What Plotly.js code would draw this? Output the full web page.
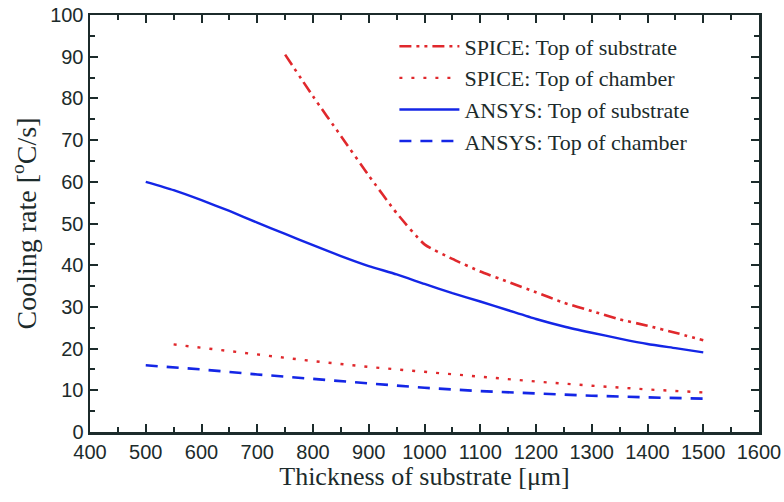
<!DOCTYPE html>
<html>
<head>
<meta charset="utf-8">
<script src="https://cdn.plot.ly/plotly-3.0.1.min.js"></script>
<style>html,body{margin:0;padding:0;background:#fff;}#chart{width:784px;height:502px;}</style>
</head>
<body>
<div id="chart"></div>
<script>
// Data
const spiceSubX = [750, 800, 850, 900, 950, 1000, 1050, 1100, 1150, 1200, 1250, 1300, 1350, 1400, 1450, 1500];
const spiceSubY = [90.5, 80.5, 71, 61.5, 52.5, 45, 41.5, 38.5, 36, 33.5, 31, 29, 27, 25.5, 23.8, 22];

const spiceChX = [550, 600, 700, 800, 900, 1000, 1100, 1200, 1300, 1400, 1500];
const spiceChY = [21, 20.2, 18.5, 17, 15.6, 14.4, 13.2, 12.1, 11.1, 10.2, 9.5];

const ansysSubX = [500, 550, 600, 650, 700, 750, 800, 850, 900, 950, 1000, 1050, 1100, 1150, 1200, 1250, 1300, 1350, 1400, 1450, 1500];
const ansysSubY = [60, 58, 55.6, 53, 50.2, 47.5, 44.8, 42.2, 39.8, 37.8, 35.5, 33.3, 31.3, 29.2, 27.1, 25.3, 23.8, 22.4, 21.1, 20.1, 19.1];

const ansysChX = [500, 600, 700, 800, 900, 1000, 1100, 1200, 1300, 1400, 1500];
const ansysChY = [16, 15, 13.8, 12.7, 11.6, 10.6, 9.8, 9.2, 8.7, 8.3, 8.0];

const seriesNames = ["SPICE: Top of substrate", "SPICE: Top of chamber", "ANSYS: Top of substrate", "ANSYS: Top of chamber"];

const RED = "#e0282c";
const BLUE = "#1426e6";

const traces = [
  {x: spiceSubX, y: spiceSubY, name: seriesNames[0], mode: "lines", line: {shape: "spline", smoothing: 0.5, color: RED, width: 2.6, dash: "12px,5px,3px,5px,3px,5px"}},
  {x: spiceChX, y: spiceChY, name: seriesNames[1], mode: "lines", line: {color: RED, width: 2.4, dash: "3px,9px"}},
  {x: ansysSubX, y: ansysSubY, name: seriesNames[2], mode: "lines", line: {shape: "spline", smoothing: 0.5, color: BLUE, width: 2.4}},
  {x: ansysChX, y: ansysChY, name: seriesNames[3], mode: "lines", line: {color: BLUE, width: 2.6, dash: "12px,9px"}}
];

const axisColor = "#1c2b2b";
const tickFont = {family: "Liberation Sans, Arial, sans-serif", size: 20, color: axisColor};

const layout = {
  width: 784, height: 502,
  margin: {l: 90, r: 25, t: 15, b: 70},
  paper_bgcolor: "#ffffff", plot_bgcolor: "#ffffff",
  showlegend: true,
  legend: {x: 0.455, y: 0.975, xanchor: "left", yanchor: "top",
    bgcolor: "rgba(255,255,255,0)", borderwidth: 0,
    font: {family: "Liberation Serif, Times New Roman, serif", size: 22, color: "#1c2b2b"},
    tracegroupgap: 0, itemwidth: 60},
  xaxis: {
    range: [400, 1600], dtick: 100, tick0: 400,
    showgrid: false, zeroline: false,
    showline: true, linecolor: axisColor, linewidth: 2.5, mirror: "allticks",
    ticks: "inside", ticklen: 8, tickwidth: 2, tickcolor: axisColor,
    minor: {dtick: 50, ticks: "inside", ticklen: 5, tickwidth: 2, tickcolor: axisColor, showgrid: false},
    tickfont: tickFont,
    title: {text: "Thickness of substrate [μm]", font: {family: "Liberation Serif, Times New Roman, serif", size: 26, color: axisColor}, standoff: 6}
  },
  yaxis: {
    range: [0, 100], dtick: 10, tick0: 0,
    showgrid: false, zeroline: false,
    showline: true, linecolor: axisColor, linewidth: 2.5, mirror: "allticks",
    ticks: "inside", ticklen: 8, tickwidth: 2, tickcolor: axisColor,
    minor: {dtick: 5, ticks: "inside", ticklen: 5, tickwidth: 2, tickcolor: axisColor, showgrid: false},
    tickfont: tickFont,
    title: {text: "Cooling rate [<sup>o</sup>C/s]", font: {family: "Liberation Serif, Times New Roman, serif", size: 28, color: axisColor}, standoff: 6}
  }
};

Plotly.newPlot("chart", traces, layout, {displayModeBar: false, staticPlot: true});
</script>
</body>
</html>
